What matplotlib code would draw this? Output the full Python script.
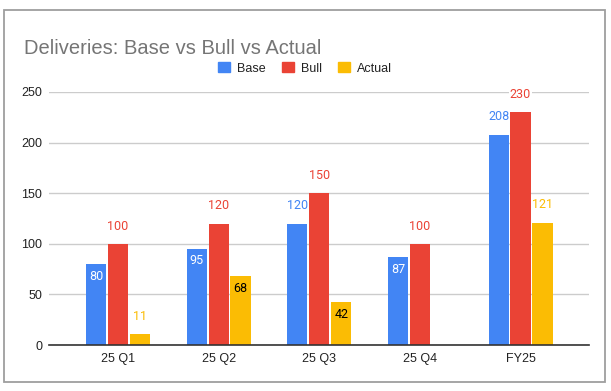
import matplotlib
matplotlib.use("Agg")
import matplotlib.pyplot as plt
from matplotlib.patches import Rectangle, Patch
import numpy as np

categories = ["25 Q1", "25 Q2", "25 Q3", "25 Q4", "FY25"]
base = [80, 95, 120, 87, 208]
bull = [100, 120, 150, 100, 230]
actual = [11, 68, 42, None, 121]

# which labels Google drew inside the bar
base_inside = [True, True, False, True, False]
actual_inside = [False, True, True, False, False]

c_base = "#4285F4"
c_bull = "#EA4335"
c_act = "#FBBC04"

W, H = 611, 391
fig = plt.figure(figsize=(W / 100, H / 100), dpi=100)
ax = fig.add_axes([49 / W, 1 - 345 / H, (589 - 49) / W, (345 - 92) / H])

x = np.arange(len(categories))
bw = 0.2
step = 0.218


def label(xpos, val, color, inside, inside_color):
    if inside:
        ax.annotate(str(val), (xpos, val), xytext=(0, -4), textcoords="offset points",
                    ha="center", va="top", fontsize=9, color=inside_color, family="Roboto")
    else:
        ax.annotate(str(val), (xpos, val), xytext=(0, 8), textcoords="offset points",
                    ha="center", va="bottom", fontsize=9, color=color, family="Roboto",
                    bbox=dict(boxstyle="square,pad=0.1", fc="white", ec="none"))


for i in range(len(categories)):
    ax.bar(x[i] - step, base[i], bw, color=c_base, zorder=3)
    label(x[i] - step, base[i], c_base, base_inside[i], "white")
    ax.bar(x[i], bull[i], bw, color=c_bull, zorder=3)
    label(x[i], bull[i], c_bull, False, "white")
    if actual[i] is not None:
        ax.bar(x[i] + step, actual[i], bw, color=c_act, zorder=3)
        label(x[i] + step, actual[i], c_act, actual_inside[i], "black")

ax.set_xlim(-0.685, len(categories) - 1 + 0.68)
ax.set_ylim(0, 250)
ax.set_yticks([0, 50, 100, 150, 200, 250])
ax.set_xticks(x)
ax.set_xticklabels(categories)
ax.grid(axis="y", color="#cccccc", linewidth=1, zorder=0)
ax.set_axisbelow(True)
for s in ["top", "right", "left"]:
    ax.spines[s].set_visible(False)
ax.spines["bottom"].set_color("#333333")
ax.spines["bottom"].set_linewidth(1.2)
ax.spines["bottom"].set_zorder(4)
ax.tick_params(axis="both", length=0, labelsize=9, labelcolor="#222222")
ax.tick_params(axis="y", pad=5)
ax.tick_params(axis="x", pad=6)
for t in ax.get_xticklabels() + ax.get_yticklabels():
    t.set_family("Liberation Sans")

fig.text(24 / W, 1 - 54 / H, "Deliveries: Base vs Bull vs Actual", fontsize=14.5,
         color="#757575", family="Liberation Sans", va="baseline", ha="left")

handles = [Patch(color=c_base, label="Base"), Patch(color=c_bull, label="Bull"),
           Patch(color=c_act, label="Actual")]
leg = fig.legend(handles=handles, loc="center", bbox_to_anchor=(305 / W, 1 - 68.5 / H),
                 ncol=3, frameon=False, handlelength=0.95, handleheight=0.8,
                 handletextpad=0.6, columnspacing=1.25,
                 prop={"family": "Liberation Sans", "size": 9})
for t in leg.get_texts():
    t.set_color("#222222")

fig.patches.append(Rectangle((4 / W, 1 - 382 / H), 601 / W, 372 / H, transform=fig.transFigure,
                             fill=False, ec="#9e9e9e", lw=1.3))

fig.savefig("out.png", dpi=100, facecolor="white")
